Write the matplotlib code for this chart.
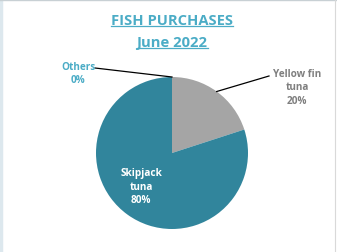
import numpy as np
import matplotlib
matplotlib.use("Agg")
import matplotlib.pyplot as plt
from matplotlib.lines import Line2D

# Data
labels = ["Yellow fin\ntuna", "Skipjack\ntuna", "Others"]
values = [20, 80, 0]
colors = ["#A5A5A5", "#31859C", "#4BACC6"]
title_lines = ["FISH PURCHASES", "June 2022"]

W, H = 337, 253
plt.rcParams["font.family"] = ["Open Sans", "DejaVu Sans"]

fig = plt.figure(figsize=(W / 100, H / 100), dpi=100)
ax = fig.add_axes([0, 0, 1, 1])

cx, cy, r = 172, H - 154, 76
wedges, _ = ax.pie(values, colors=colors, startangle=90, counterclock=False,
                   center=(cx, cy), radius=r, frame=True)
ax.set_xlim(0, W)
ax.set_ylim(0, H)
ax.set_aspect("equal")
ax.axis("off")

total = sum(values)
pcts = [f"{round(v / total * 100)}%" for v in values]

# mid-angles of wedges
angles = []
start = 90
for v in values:
    sweep = v / total * 360
    angles.append(np.deg2rad(start - sweep / 2))
    start -= sweep

lab_kw = dict(ha="center", va="center", fontsize=7.2, fontweight="bold", linespacing=1.3)

# Yellow fin: outside with leader
a = angles[0]
ax.plot([cx + r * np.cos(a), 269], [cy + r * np.sin(a), H - 77], color="black", lw=0.9)
ax.text(297, H - 88, f"{labels[0]}\n{pcts[0]}", color="#7F7F7F", **lab_kw)

# Skipjack: inside
ax.text(141, H - 187, f"{labels[1]}\n{pcts[1]}", color="white", **lab_kw)

# Others: outside with leader
a = angles[2]
ax.plot([cx + r * np.cos(a), 95], [cy + r * np.sin(a), H - 69], color="black", lw=0.9)
ax.text(78, H - 74, f"{labels[2]}\n{pcts[2]}", color="#4BACC6", **lab_kw)

# Title with underline
title_color = "#4BACC6"
fig.canvas.draw()
renderer = fig.canvas.get_renderer()
for txt, y in zip(title_lines, [H - 21, H - 43]):
    t = ax.text(172, y, txt, ha="center", va="center", fontsize=10.6,
                fontweight="bold", color=title_color)
    bb = t.get_window_extent(renderer=renderer)
    bb = bb.transformed(ax.transData.inverted())
    ax.add_line(Line2D([bb.x0, bb.x1], [bb.y0 + 1.5, bb.y0 + 1.5], color=title_color, lw=0.9))

# chart frame edges
fig.add_artist(Line2D([0.004, 0.004], [0, 1], color="#DDE8EE", lw=2.5))
fig.add_artist(Line2D([0, 1], [0.997, 0.997], color="#C8D0D4", lw=1))
fig.add_artist(Line2D([0.995, 0.995], [0, 1], color="#D9D9D9", lw=0.8))

fig.savefig("out.png", dpi=100)
